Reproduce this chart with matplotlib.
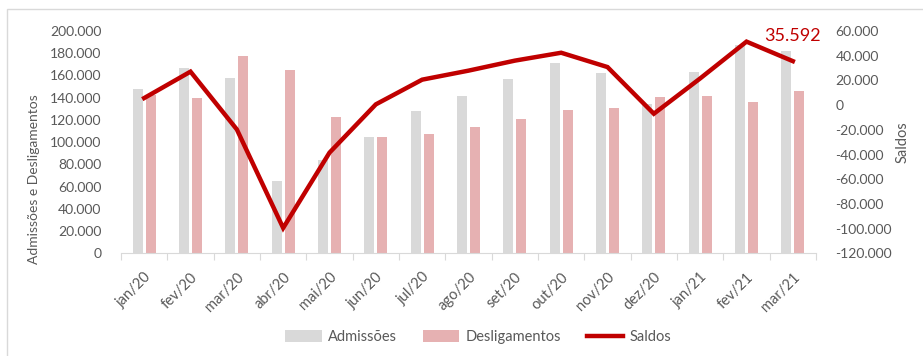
import matplotlib
matplotlib.use("Agg")
import matplotlib.pyplot as plt
import numpy as np
from matplotlib.patches import Rectangle

plt.rcParams['font.family'] = ['Lato', 'DejaVu Sans']

meses = ['jan/20', 'fev/20', 'mar/20', 'abr/20', 'mai/20', 'jun/20', 'jul/20', 'ago/20',
         'set/20', 'out/20', 'nov/20', 'dez/20', 'jan/21', 'fev/21', 'mar/21']
admissoes = [147700, 166700, 158000, 65000, 84000, 105000, 127600, 141700,
             157000, 171400, 161800, 134000, 163300, 187700, 182000]
desligamentos = [142000, 139600, 177700, 164500, 122500, 105000, 107000, 113800,
                 121000, 129000, 131000, 141000, 141700, 136300, 146400]
saldos = [5700, 27100, -19700, -99500, -38500, 600, 20600, 27900,
          36000, 42400, 30800, -7000, 21600, 51400, 35592]

cinza = '#d9d9d9'
rosa = '#e6b1b2'
vermelho = '#c00000'
texto = '#595959'

fig = plt.figure(figsize=(9.23, 3.56), dpi=100)
ax = fig.add_axes([121 / 923, 1 - 253.3 / 356, 695 / 923, 222.3 / 356])
ax2 = ax.twinx()

x = np.arange(len(meses))
w = 0.22
ax.bar(x - 0.14, admissoes, w, color=cinza, label='Admissões', zorder=2)
ax.bar(x + 0.14, desligamentos, w, color=rosa, label='Desligamentos', zorder=2)
ax2.plot(x, saldos, color=vermelho, lw=3.2, label='Saldos', solid_joinstyle='miter')

ax.set_xlim(-0.5, len(meses) - 0.5)
ax.set_ylim(0, 200000)
ax2.set_ylim(-120000, 60000)

fmt = lambda v, p: f'{int(v):,}'.replace(',', '.')
ax.set_yticks(np.arange(0, 200001, 20000))
ax2.set_yticks(np.arange(-120000, 60001, 20000))
ax.yaxis.set_major_formatter(matplotlib.ticker.FuncFormatter(fmt))
ax2.yaxis.set_major_formatter(matplotlib.ticker.FuncFormatter(fmt))

for a in (ax, ax2):
    for s in a.spines.values():
        s.set_visible(False)
    a.tick_params(axis='y', length=0, labelsize=10, labelcolor=texto, pad=14)
ax.spines['bottom'].set_visible(True)
ax.spines['bottom'].set_color(cinza)

# ticks between categories, labels at centers
ax.set_xticks(np.arange(-0.5, len(meses), 1))
ax.set_xticklabels([])
ax.tick_params(axis='x', which='major', length=5, color=cinza)
ax.set_xticks(x, minor=True)
ax.set_xticklabels(meses, minor=True, rotation=45, ha='right', rotation_mode='anchor')
ax.tick_params(axis='x', which='minor', length=0, labelsize=10.5, labelcolor=texto, pad=12)

ax.set_ylabel('Admissões e Desligamentos', fontsize=10, color=texto)
ax.yaxis.set_label_coords(-0.1165, 0.334)
ax2.set_ylabel('Saldos', fontsize=10.5, color=texto)
ax2.yaxis.set_label_coords(1.115, 0.5)

ax2.annotate(f'{saldos[-1]:,}'.replace(',', '.'), (x[-1], saldos[-1]), xytext=(0, 25),
             textcoords='offset pixels', ha='center', va='center',
             fontsize=13, color=vermelho)

h1, l1 = ax.get_legend_handles_labels()
h2, l2 = ax2.get_legend_handles_labels()
fig.legend(h1 + h2, l1 + l2, loc='center', bbox_to_anchor=(0.518, 1 - 337 / 356),
           ncol=3, frameon=False, fontsize=10.5, labelcolor=texto,
           handlelength=2.5, handleheight=0.9, handletextpad=0.4, columnspacing=1.8)

fig.patches.append(Rectangle((7 / 923, -0.1), 1.2, 1.1 - 9 / 356, transform=fig.transFigure,
                             fill=False, edgecolor=cinza, lw=1))

fig.savefig('out.png', dpi=100)
